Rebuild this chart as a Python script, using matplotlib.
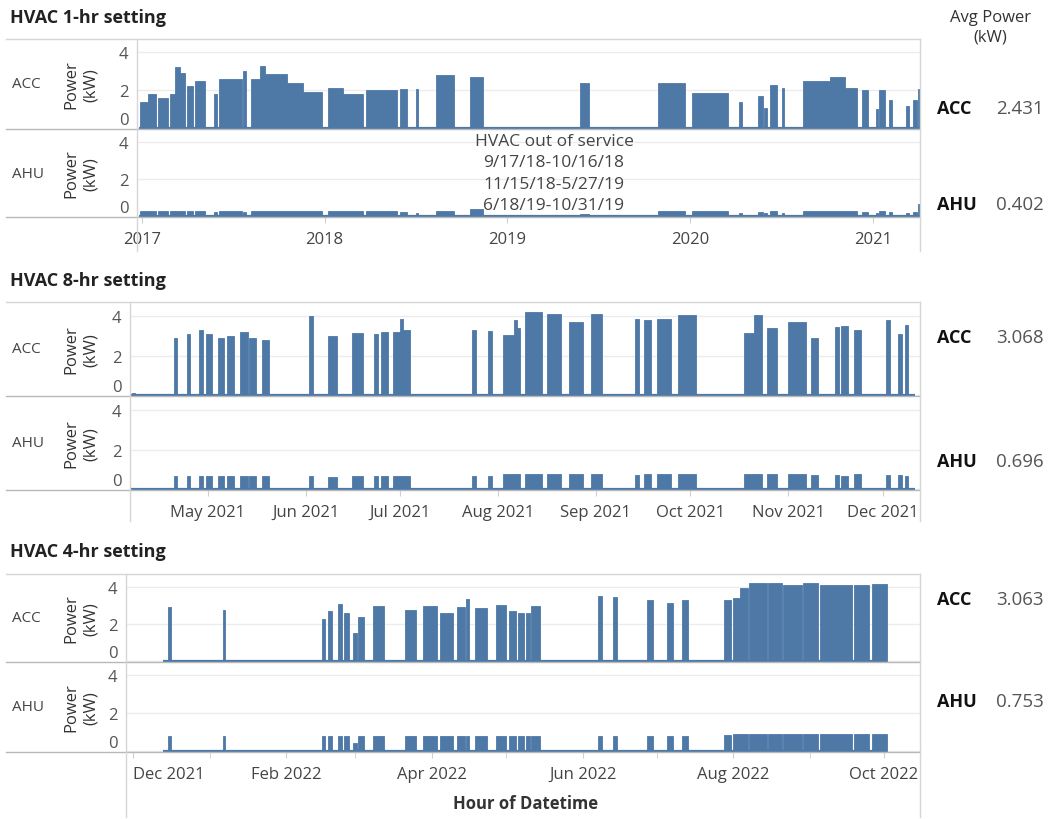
import numpy as np
import pandas as pd
import matplotlib
matplotlib.use('Agg')
import matplotlib.pyplot as plt
import matplotlib.dates as mdates
from matplotlib.lines import Line2D

plt.rcParams['font.family'] = ['Open Sans', 'DejaVu Sans']

BLUE = '#4e79a7'
W, H = 1050, 820

# ---------------- data ----------------
# HVAC 1-hr setting: running periods, ACC and AHU level (kW)
hr1_start = ['2016-12-27', '2017-01-13', '2017-02-02', '2017-02-26', '2017-03-08', '2017-03-18',
             '2017-04-01', '2017-04-17', '2017-05-25', '2017-06-04', '2017-07-22', '2017-08-07',
             '2017-08-25', '2017-09-04', '2017-10-18', '2017-11-19', '2018-01-08', '2018-02-07',
             '2018-03-25', '2018-06-01', '2018-07-03', '2018-08-12', '2018-10-19', '2019-05-26',
             '2019-10-30', '2020-01-06', '2020-04-09', '2020-05-17', '2020-05-29', '2020-06-10',
             '2020-07-04', '2020-08-15', '2020-10-08', '2020-11-07', '2020-12-11', '2021-01-08',
             '2021-01-14', '2021-02-03', '2021-03-09', '2021-03-23', '2021-04-02']
hr1_end = ['2017-01-13', '2017-01-29', '2017-02-22', '2017-03-08', '2017-03-18', '2017-03-28',
           '2017-04-13', '2017-05-07', '2017-05-31', '2017-07-20', '2017-07-28', '2017-08-25',
           '2017-09-04', '2017-10-18', '2017-11-19', '2017-12-27', '2018-02-07', '2018-03-19',
           '2018-05-26', '2018-06-15', '2018-07-07', '2018-09-17', '2018-11-14', '2019-06-13',
           '2019-12-23', '2020-03-18', '2020-04-15', '2020-05-27', '2020-06-04', '2020-06-24',
           '2020-07-08', '2020-10-08', '2020-11-07', '2020-12-01', '2020-12-23', '2021-01-12',
           '2021-01-26', '2021-02-09', '2021-03-15', '2021-03-31', '2021-04-05']
hr1_acc = [1.4, 1.8, 1.6, 1.8, 3.2, 2.9, 2.2, 2.5, 1.8, 2.6, 3.0, 2.6, 3.3, 2.85, 2.4, 1.9,
           2.1, 1.8, 2.0, 2.05, 2.05, 2.8, 2.7, 2.4, 2.4, 1.85, 1.4, 1.7, 1.05, 2.3, 2.1,
           2.5, 2.7, 2.1, 2.0, 1.0, 2.0, 1.5, 1.15, 1.5, 2.05]
hr1_ahu = [0.28, 0.28, 0.26, 0.28, 0.28, 0.28, 0.28, 0.28, 0.22, 0.28, 0.25, 0.3, 0.3, 0.3,
           0.3, 0.28, 0.26, 0.26, 0.28, 0.25, 0.2, 0.28, 0.38, 0.1, 0.3, 0.28, 0.2, 0.25,
           0.2, 0.28, 0.2, 0.3, 0.3, 0.28, 0.25, 0.2, 0.3, 0.25, 0.2, 0.25, 0.65]
hr1_span = ['2016-12-26', '2021-04-05']
hr1_view = ['2016-12-22', '2021-04-05']

# HVAC 8-hr setting
hr8_start = ['2021-04-07', '2021-04-20 06:00', '2021-04-24 08:00', '2021-04-28 03:00',
             '2021-04-30 10:00', '2021-05-04 05:00', '2021-05-07', '2021-05-11 03:00',
             '2021-05-14', '2021-05-18 03:00', '2021-06-02', '2021-06-08', '2021-06-15 16:00',
             '2021-06-22 14:00', '2021-06-24 22:00', '2021-06-28 16:00', '2021-06-30 20:00',
             '2021-07-01 20:00', '2021-07-23 16:00', '2021-07-28 20:00', '2021-08-02 12:00',
             '2021-08-05 22:00', '2021-08-06 22:00', '2021-08-09 12:00', '2021-08-16 12:00',
             '2021-08-23 12:00', '2021-08-30 10:00', '2021-09-13 10:00', '2021-09-16 05:00',
             '2021-09-20 10:00', '2021-09-27', '2021-10-18', '2021-10-21', '2021-10-25 05:00',
             '2021-10-31 22:00', '2021-11-08 05:00', '2021-11-15 20:00', '2021-11-17 17:00',
             '2021-11-21 20:00', '2021-12-02', '2021-12-05 20:00', '2021-12-08']
hr8_end = ['2021-04-08', '2021-04-21 06:00', '2021-04-25 08:00', '2021-04-29 10:00',
           '2021-05-02 08:00', '2021-05-06 03:00', '2021-05-09 05:00', '2021-05-13 16:00',
           '2021-05-16 05:00', '2021-05-20 08:00', '2021-06-03 08:00', '2021-06-10 22:00',
           '2021-06-19 03:00', '2021-06-23 22:00', '2021-06-27 03:00', '2021-06-30 20:00',
           '2021-07-01 20:00', '2021-07-04', '2021-07-25', '2021-07-30', '2021-08-05 22:00',
           '2021-08-06 22:00', '2021-08-07 22:00', '2021-08-14 22:00', '2021-08-20 22:00',
           '2021-08-27 22:00', '2021-09-02 22:00', '2021-09-14 17:00', '2021-09-18 12:00',
           '2021-09-24 20:00', '2021-10-02 17:00', '2021-10-21', '2021-10-23 17:00',
           '2021-10-28 10:00', '2021-11-06 14:00', '2021-11-10 10:00', '2021-11-17',
           '2021-11-19 22:00', '2021-11-24', '2021-12-03 08:00', '2021-12-07 03:00',
           '2021-12-08 22:00']
hr8_acc = [0.1, 2.9, 3.1, 3.3, 3.1, 2.9, 3.0, 3.2, 2.9, 2.8, 3.97, 3.0, 3.15, 3.1, 3.2, 3.2,
           3.85, 3.3, 3.3, 3.25, 3.05, 3.8, 3.4, 4.2, 4.1, 3.7, 4.1, 3.85, 3.8, 3.85, 4.05,
           3.15, 4.05, 3.4, 3.7, 2.9, 3.45, 3.5, 3.3, 3.8, 3.1, 3.55]
hr8_ahu = [0.05, 0.65, 0.65, 0.65, 0.65, 0.65, 0.65, 0.65, 0.65, 0.65, 0.65, 0.6, 0.68,
           0.65, 0.68, 0.68, 0.68, 0.68, 0.65, 0.65, 0.78, 0.78, 0.78, 0.78, 0.78, 0.75,
           0.75, 0.72, 0.75, 0.77, 0.78, 0.78, 0.78, 0.77, 0.75, 0.72, 0.72, 0.68, 0.75,
           0.7, 0.7, 0.65]
hr8_span = ['2021-04-06 08:00', '2021-12-11 05:00']
hr8_view = ['2021-04-06 08:00', '2021-12-12 18:00']

# HVAC 4-hr setting
hr4_start = ['2021-12-15 02:00', '2022-01-06 10:00', '2022-02-15 12:00', '2022-02-17 22:00',
             '2022-02-21 22:00', '2022-02-24 10:00', '2022-02-28', '2022-03-02',
             '2022-03-08 02:00', '2022-03-21 02:00', '2022-03-28 10:00', '2022-04-04 05:00',
             '2022-04-11 02:00', '2022-04-14 19:00', '2022-04-18 10:00', '2022-04-26 22:00',
             '2022-05-02 05:00', '2022-05-05 19:00', '2022-05-09 02:00', '2022-05-11 02:00',
             '2022-06-07 05:00', '2022-06-13 07:00', '2022-06-27', '2022-07-05 02:00',
             '2022-07-11 05:00', '2022-07-28 05:00', '2022-07-31 22:00', '2022-08-03 17:00',
             '2022-08-07 07:00', '2022-08-15', '2022-08-21 02:00', '2022-08-29 05:00',
             '2022-09-05 02:00', '2022-09-18 22:00', '2022-09-26 02:00']
hr4_end = ['2021-12-16 07:00', '2022-01-07 05:00', '2022-02-16 17:00', '2022-02-19 12:00',
           '2022-02-23 14:00', '2022-02-26 10:00', '2022-03-01 14:00', '2022-03-04 12:00',
           '2022-03-12 14:00', '2022-03-25 12:00', '2022-04-03', '2022-04-09 12:00',
           '2022-04-14 10:00', '2022-04-16', '2022-04-23 07:00', '2022-05-01',
           '2022-05-05', '2022-05-08 05:00', '2022-05-10 17:00', '2022-05-14 17:00',
           '2022-06-08 19:00', '2022-06-14 22:00', '2022-06-29 12:00', '2022-07-07 14:00',
           '2022-07-13 14:00', '2022-07-31 02:00', '2022-08-03 17:00', '2022-08-06 22:00',
           '2022-08-14 14:00', '2022-08-20 17:00', '2022-08-28 19:00', '2022-09-04 07:00',
           '2022-09-18', '2022-09-24 22:00', '2022-10-02 05:00']
hr4_acc = [2.93, 2.75, 2.25, 2.7, 3.1, 2.6, 1.5, 2.4, 3.0, 2.75, 2.95, 2.6, 2.9, 3.35, 2.85,
           3.05, 2.7, 2.6, 2.6, 2.95, 3.5, 3.45, 3.3, 3.15, 3.3, 3.3, 3.4, 3.95, 4.2, 4.2,
           4.1, 4.2, 4.1, 4.1, 4.15]
hr4_ahu = [0.8, 0.8, 0.8, 0.8, 0.8, 0.8, 0.45, 0.8, 0.8, 0.8, 0.82, 0.8, 0.8, 0.8, 0.8, 0.8,
           0.8, 0.78, 0.78, 0.78, 0.82, 0.82, 0.8, 0.82, 0.82, 0.88, 0.9, 0.9, 0.9, 0.9,
           0.9, 0.9, 0.9, 0.9, 0.9]
hr4_span = ['2021-12-13', '2022-10-02 05:00']
hr4_view = ['2021-11-28 02:00', '2022-10-15 14:00']

titles = ['HVAC 1-hr setting', 'HVAC 8-hr setting', 'HVAC 4-hr setting']
avg_acc = [2.431, 3.068, 3.063]
avg_ahu = [0.402, 0.696, 0.753]
outage_note = 'HVAC out of service\n9/17/18-10/16/18\n11/15/18-5/27/19\n6/18/19-10/31/19'

# ---------------- layout (pixels) ----------------
# left, top, divider, bottom, bottom of vertical rules, title y, avg ACC y, avg AHU y
layout = [
    (137, 40, 130, 218, 252, 18, 109, 205),
    (130, 303, 397, 491, 522, 281, 338, 462),
    (126, 575, 663, 753, 818, 552, 600, 702),
]
RIGHT = 920

fig = plt.figure(figsize=(W / 100, H / 100), dpi=100)


def fx(x):
    return x / W


def fy(y):
    return 1 - y / H


def hline(x0, x1, y, color):
    fig.add_artist(Line2D([fx(x0), fx(x1)], [fy(y), fy(y)], transform=fig.transFigure,
                          color=color, lw=1))


def vline(x, y0, y1, color):
    fig.add_artist(Line2D([fx(x), fx(x)], [fy(y0), fy(y1)], transform=fig.transFigure,
                          color=color, lw=1))


def to_num(vals):
    return mdates.date2num(pd.to_datetime(vals, format='mixed'))


panels = [
    (hr1_start, hr1_end, hr1_acc, hr1_ahu, hr1_span, hr1_view),
    (hr8_start, hr8_end, hr8_acc, hr8_ahu, hr8_span, hr8_view),
    (hr4_start, hr4_end, hr4_acc, hr4_ahu, hr4_span, hr4_view),
]

for i, (starts, ends, acc, ahu, span, view) in enumerate(panels):
    left, top, mid, bot, vbot, ty, acc_y, ahu_y = layout[i]

    acc_ax = fig.add_axes([fx(left), fy(mid), fx(RIGHT - left), (mid - top) / H])
    ahu_ax = fig.add_axes([fx(left), fy(bot), fx(RIGHT - left), (bot - mid) / H])

    s = to_num(starts)
    e = to_num(ends)
    for ax, vals in ((acc_ax, acc), (ahu_ax, ahu)):
        ax.bar(s, vals, width=e - s, align='edge', color=BLUE, edgecolor=BLUE, lw=0.6,
               zorder=3)
        ax.plot(to_num(span), [0, 0], color=BLUE, lw=1.6, zorder=3, solid_capstyle='butt')
        ax.set_xlim(to_num(view))
        ax.set_ylim(-0.04, 4.7)
        ax.set_yticks([0, 2, 4])
        ax.yaxis.grid(True, color='#ececec', lw=1, zorder=0)
        ax.set_axisbelow(True)
        for sp in ax.spines.values():
            sp.set_visible(False)
        ax.tick_params(axis='y', length=0, pad=6, labelsize=12, labelcolor='#555555')
        ylabs = ax.get_yticklabels()
        ylabs[0].set_va('bottom')
        ax.set_facecolor('none')

    acc_ax.tick_params(axis='x', bottom=False, labelbottom=False)

    if i == 0:
        ahu_ax.xaxis.set_major_locator(mdates.YearLocator())
        ahu_ax.xaxis.set_major_formatter(mdates.DateFormatter('%Y'))
    elif i == 1:
        ahu_ax.xaxis.set_major_locator(mdates.MonthLocator())
        ahu_ax.xaxis.set_major_formatter(mdates.DateFormatter('%b %Y'))
    else:
        ahu_ax.xaxis.set_major_locator(mdates.MonthLocator(bymonth=[2, 4, 6, 8, 10, 12]))
        ahu_ax.xaxis.set_minor_locator(mdates.MonthLocator())
        ahu_ax.xaxis.set_major_formatter(mdates.DateFormatter('%b %Y'))
    ahu_ax.tick_params(axis='x', which='both', length=4, color='#d0d0d0', pad=6,
                       labelsize=12, labelcolor='#444444')

    # frame rules
    hline(6, RIGHT, top, '#d6d6d6')
    hline(6, RIGHT, mid, '#b8b8b8')
    hline(6, RIGHT, bot, '#b8b8b8')
    vline(left, top, vbot, '#d6d6d6')
    vline(RIGHT, top, vbot, '#d6d6d6')

    # titles and row headers
    fig.text(fx(10), fy(ty), titles[i], fontsize=13, fontweight='bold', color='#222222',
             ha='left', va='center')
    for name, y0, y1 in (('ACC', top, mid), ('AHU', mid, bot)):
        yc = (y0 + y1) / 2
        fig.text(fx(12), fy(yc), name, fontsize=11, color='#444444', ha='left', va='center')
        fig.text(fx(81), fy(yc), 'Power\n(kW)', fontsize=12, color='#333333', rotation=90,
                 ha='center', va='center', linespacing=1.25, multialignment='center')

    # average power column
    for name, val, y in (('ACC', avg_acc[i], acc_y), ('AHU', avg_ahu[i], ahu_y)):
        fig.text(fx(937), fy(y), name, fontsize=13, fontweight='bold', color='#111111',
                 ha='left', va='center')
        fig.text(fx(1044), fy(y), f'{val:.3f}', fontsize=13.5, color='#555555',
                 ha='right', va='center')

fig.text(fx(990), fy(28), 'Avg Power\n(kW)', fontsize=12, color='#333333', ha='center',
         va='center', linespacing=1.3)
fig.text(fx(554), fy(174), outage_note, fontsize=12.5, color='#444444', ha='center',
         va='center', linespacing=1.42, multialignment='center')
fig.text(fx(526), fy(804), 'Hour of Datetime', fontsize=12, fontweight='bold',
         color='#333333', ha='center', va='center')

# first date labels stay inside the pane, as in the original
fig.canvas.draw()
for ax in fig.axes[1::2][::2]:
    labs = [t for t in ax.get_xticklabels() if t.get_text()]
    if labs:
        labs[0].set_ha('left')

fig.savefig('out.png', dpi=100)
